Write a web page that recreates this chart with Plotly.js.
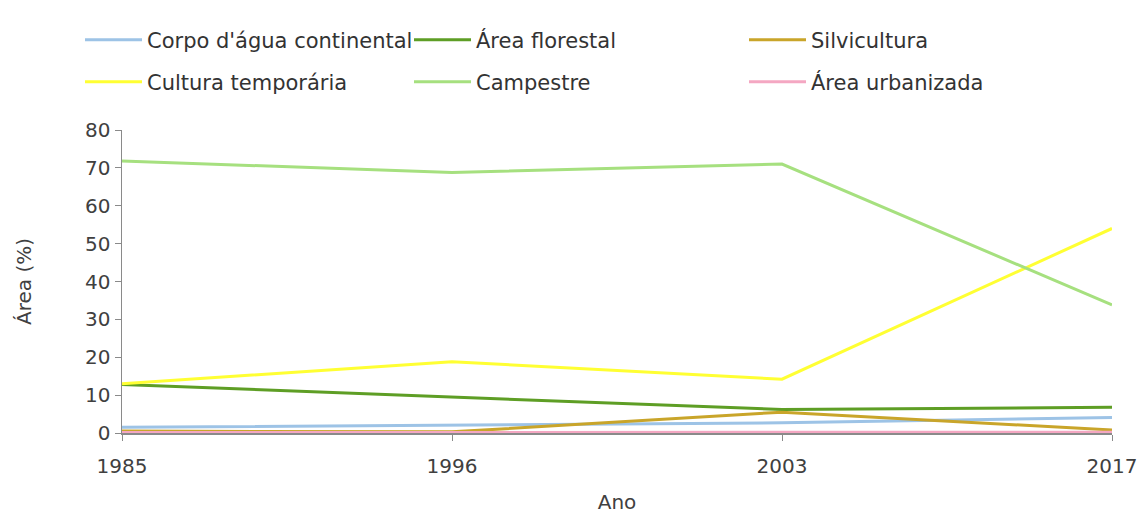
<!DOCTYPE html>
<html>
<head>
<meta charset="utf-8">
<script src="https://cdn.plot.ly/plotly-3.0.1.min.js"></script>
<style>html,body{margin:0;padding:0;background:#fff;}#chart{width:1140px;height:517px;}</style>
</head>
<body>
<div id="chart"></div>
<script>
const years = ["1985", "1996", "2003", "2017"];
const seriesNames = ["Corpo d'água continental", "Área florestal", "Silvicultura", "Cultura temporária", "Campestre", "Área urbanizada"];
const corpoAgua = [1.5, 2.2, 2.7, 4.1];
const areaFlorestal = [12.8, 9.5, 6.2, 6.8];
const silvicultura = [0.5, 0.3, 5.5, 0.8];
const culturaTemporaria = [13.0, 18.8, 14.2, 54.0];
const campestre = [71.8, 68.8, 71.0, 33.8];
const areaUrbanizada = [0.1, 0.1, 0.1, 0.2];
const colors = ["#9DC3E6", "#5E9E25", "#C9A52A", "#FFFF33", "#A6E07F", "#F4A7C2"];

const allValues = [corpoAgua, areaFlorestal, silvicultura, culturaTemporaria, campestre, areaUrbanizada];
const legendIds = ["legend", "legend2", "legend3", "legend4", "legend5", "legend6"];
const traces = allValues.map((vals, i) => ({
  type: "scatter",
  mode: "lines",
  x: years,
  y: vals,
  name: seriesNames[i],
  legend: legendIds[i],
  line: {color: colors[i], width: 3}
}));

const font = "DejaVu Sans, sans-serif";
const colX = [80, 409, 744];
const rowY = [40, 82];
const layout = {
  width: 1140, height: 517,
  margin: {l: 122, r: 28, t: 130, b: 84},
  paper_bgcolor: "#fff", plot_bgcolor: "#fff",
  font: {family: font, color: "#404040", size: 19},
  showlegend: true,
  xaxis: {
    type: "category", range: [0, 3],
    showline: true, linecolor: "#8a8a8a", linewidth: 1.5,
    ticks: "outside", ticklen: 6, tickcolor: "#8a8a8a",
    ticklabelstandoff: 8,
    showgrid: false, zeroline: false,
    tickfont: {size: 20, color: "#404040"},
    title: {text: "Ano", font: {size: 20, color: "#404040"}, standoff: 18}
  },
  yaxis: {
    range: [0, 80], dtick: 10,
    showline: true, linecolor: "#8a8a8a", linewidth: 1.5,
    ticks: "outside", ticklen: 6, tickcolor: "#8a8a8a",
    showgrid: false, zeroline: false,
    tickfont: {size: 20, color: "#404040"},
    title: {text: "Área (%)", font: {size: 20, color: "#404040"}, standoff: 48}
  }
};
legendIds.forEach((id, i) => {
  layout[id] = {
    orientation: "h",
    xref: "container", x: colX[i % 3] / 1140, xanchor: "left",
    yref: "container", y: 1 - rowY[Math.floor(i / 3)] / 517, yanchor: "middle",
    itemwidth: 57,
    font: {family: font, size: 21, color: "#333"},
    bgcolor: "rgba(0,0,0,0)"
  };
});
Plotly.newPlot("chart", traces, layout, {displayModeBar: false, staticPlot: true});
</script>
</body>
</html>
